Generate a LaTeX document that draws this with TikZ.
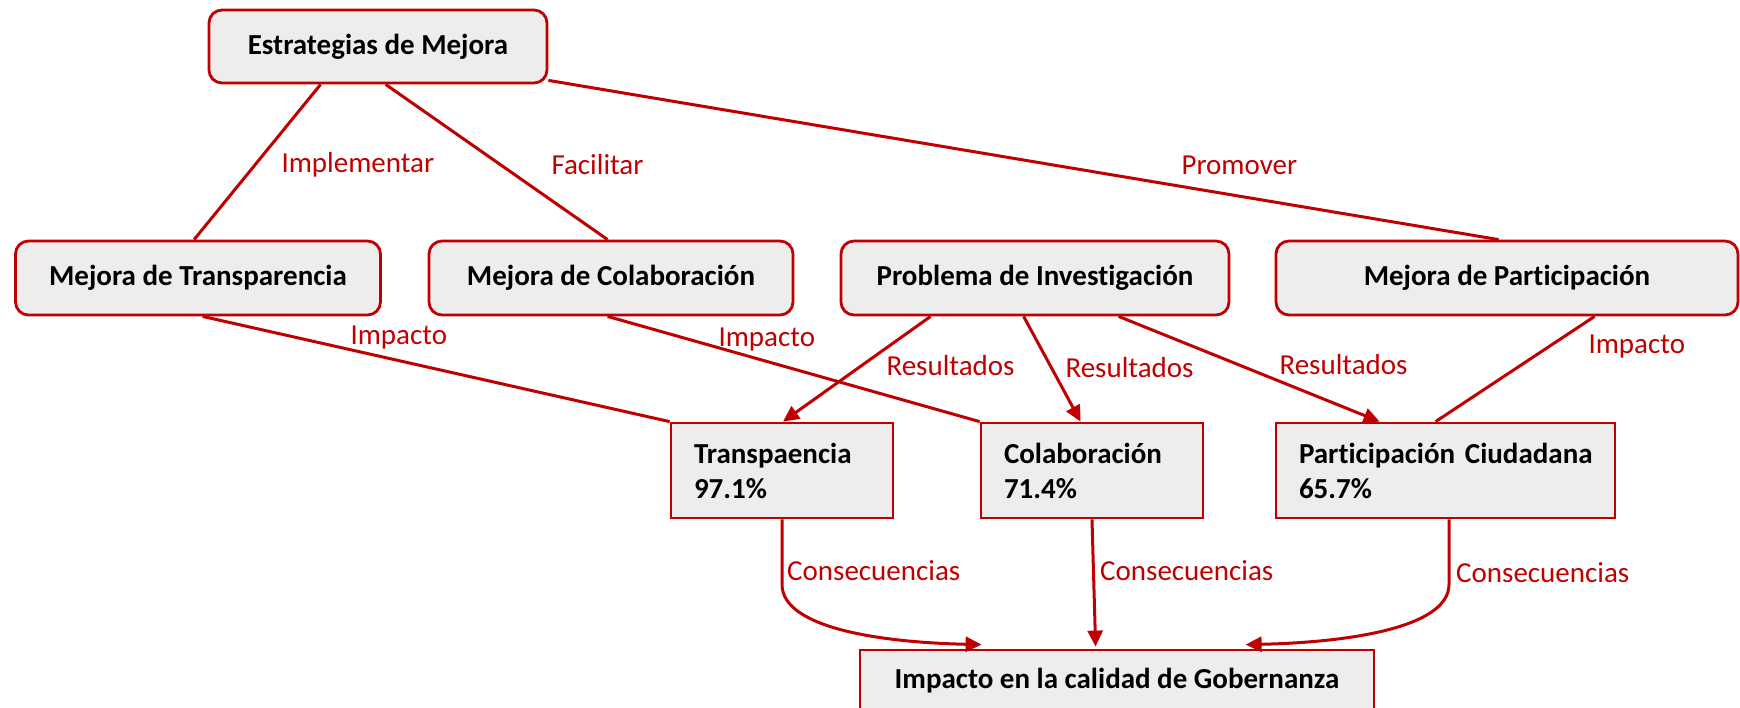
\documentclass[tikz,border=0pt]{standalone}
\usepackage{fontspec}
\setmainfont[Ligatures=NoCommon]{Carlito}
\usetikzlibrary{arrows.meta}
\definecolor{dred}{HTML}{C00000}
\definecolor{boxgray}{HTML}{EDEDED}
\begin{document}
\begin{tikzpicture}[x=1pt,y=-1pt,
  rbox/.style={draw=dred, fill=boxgray, line width=2.8pt, rounded corners=13pt, inner sep=0pt, font=\fontsize{29}{35}\selectfont\bfseries, text=black, align=center},
  sbox/.style={draw=dred, fill=boxgray, line width=2.8pt, inner sep=0pt, font=\fontsize{29}{35}\selectfont\bfseries, text=black},
  conn/.style={draw=dred, line width=3pt},
  arr/.style={conn, -{Triangle[length=16pt,width=15pt]}},
  lbl/.style={text=dred, font=\fontsize{29}{35}\selectfont, inner sep=0pt, anchor=west}]
\useasboundingbox (0,0) rectangle (1740,707);

% boxes
\node[rbox, minimum width=338pt, minimum height=73pt] (E) at (378,46.5) {Estrategias de Mejora};
\node[rbox, minimum width=365pt, minimum height=74pt] (MT) at (198,278) {Mejora de Transparencia};
\node[rbox, minimum width=364pt, minimum height=74pt] (MC) at (611,278) {Mejora de Colaboración};
\node[rbox, minimum width=388pt, minimum height=74pt] (PI) at (1035,278) {Problema de Investigación};
\node[rbox, minimum width=462pt, minimum height=74pt] (MP) at (1507,278) {Mejora de Participación};

\node[sbox, inner xsep=23pt, text width=176pt, minimum height=95pt, align=left] (T) at (782,470.5) {Transpaencia\\97.1\%};
\node[sbox, inner xsep=23pt, text width=176pt, minimum height=95pt, align=left] (C) at (1092,470.5) {Colaboración\\71.4\%};
\node[sbox, inner xsep=23pt, text width=293pt, minimum height=95pt, align=left] (PC) at (1445.5,470.5) {\mbox{Participación Ciudadana}\\65.7\%};
\node[sbox, minimum width=514pt, minimum height=62pt] (I) at (1117,681) {Impacto en la calidad de Gobernanza};

% top connectors
\draw[conn] ([xshift=113pt]E.south west) -- ([xshift=180pt]MT.north west)
  node[lbl, at={(280,165)}] (l1) {Implementar};
\draw[conn] ([xshift=178pt]E.south west) -- ([xshift=180pt]MC.north west)
  node[lbl, at={(550,165)}] (l2) {Facilitar};
\draw[conn] ([yshift=4pt]E.south east) -- ([xshift=224pt]MP.north west)
  node[lbl, at={(1180,165)}] (l3) {Promover};

% impacto connectors
\draw[conn] ([xshift=188.5pt]MT.south west) -- (T.north west)
  node[lbl, at={(349,338)}] (l4) {Impacto};
\draw[conn] ([xshift=180pt]MC.south west) -- (C.north west)
  node[lbl, at={(717,340)}] (l5) {Impacto};
\draw[conn] ([xshift=320pt]MP.south west) -- ([xshift=161pt]PC.north west)
  node[lbl, at={(1587,347)}] (l6) {Impacto};

% resultados arrows
\draw[arr] ([xshift=91pt]PI.south west) -- ([xshift=1pt]T.north)
  node[lbl, at={(885,366)}] (l7) {Resultados};
\draw[arr] ([xshift=184pt]PI.south west) -- ([xshift=101pt]C.north west)
  node[lbl, at={(1064,368)}] (l8) {Resultados};
\draw[arr] ([xshift=279pt]PI.south west) -- ([xshift=105pt]PC.north west)
  node[lbl, at={(1278,365)}] (l9) {Resultados};

% consecuencias arrows
\draw[arr] (T.south) -- ++(0,65) .. controls +(0,45) and +(-95,-2) .. ([xshift=123pt,yshift=4pt]I.north west);
\node[lbl] (l10) at (787,571) {Consecuencias};
\draw[arr] (C.south) -- ([xshift=237pt,yshift=2pt]I.north west);
\node[lbl] (l11) at (1100,571) {Consecuencias};
\draw[arr] ([xshift=3.5pt]PC.south) -- ++(0,65) .. controls +(0,45) and +(95,-2) .. ([xshift=387pt,yshift=4pt]I.north west);
\node[lbl] (l12) at (1456,573) {Consecuencias};
\end{tikzpicture}
\end{document}
